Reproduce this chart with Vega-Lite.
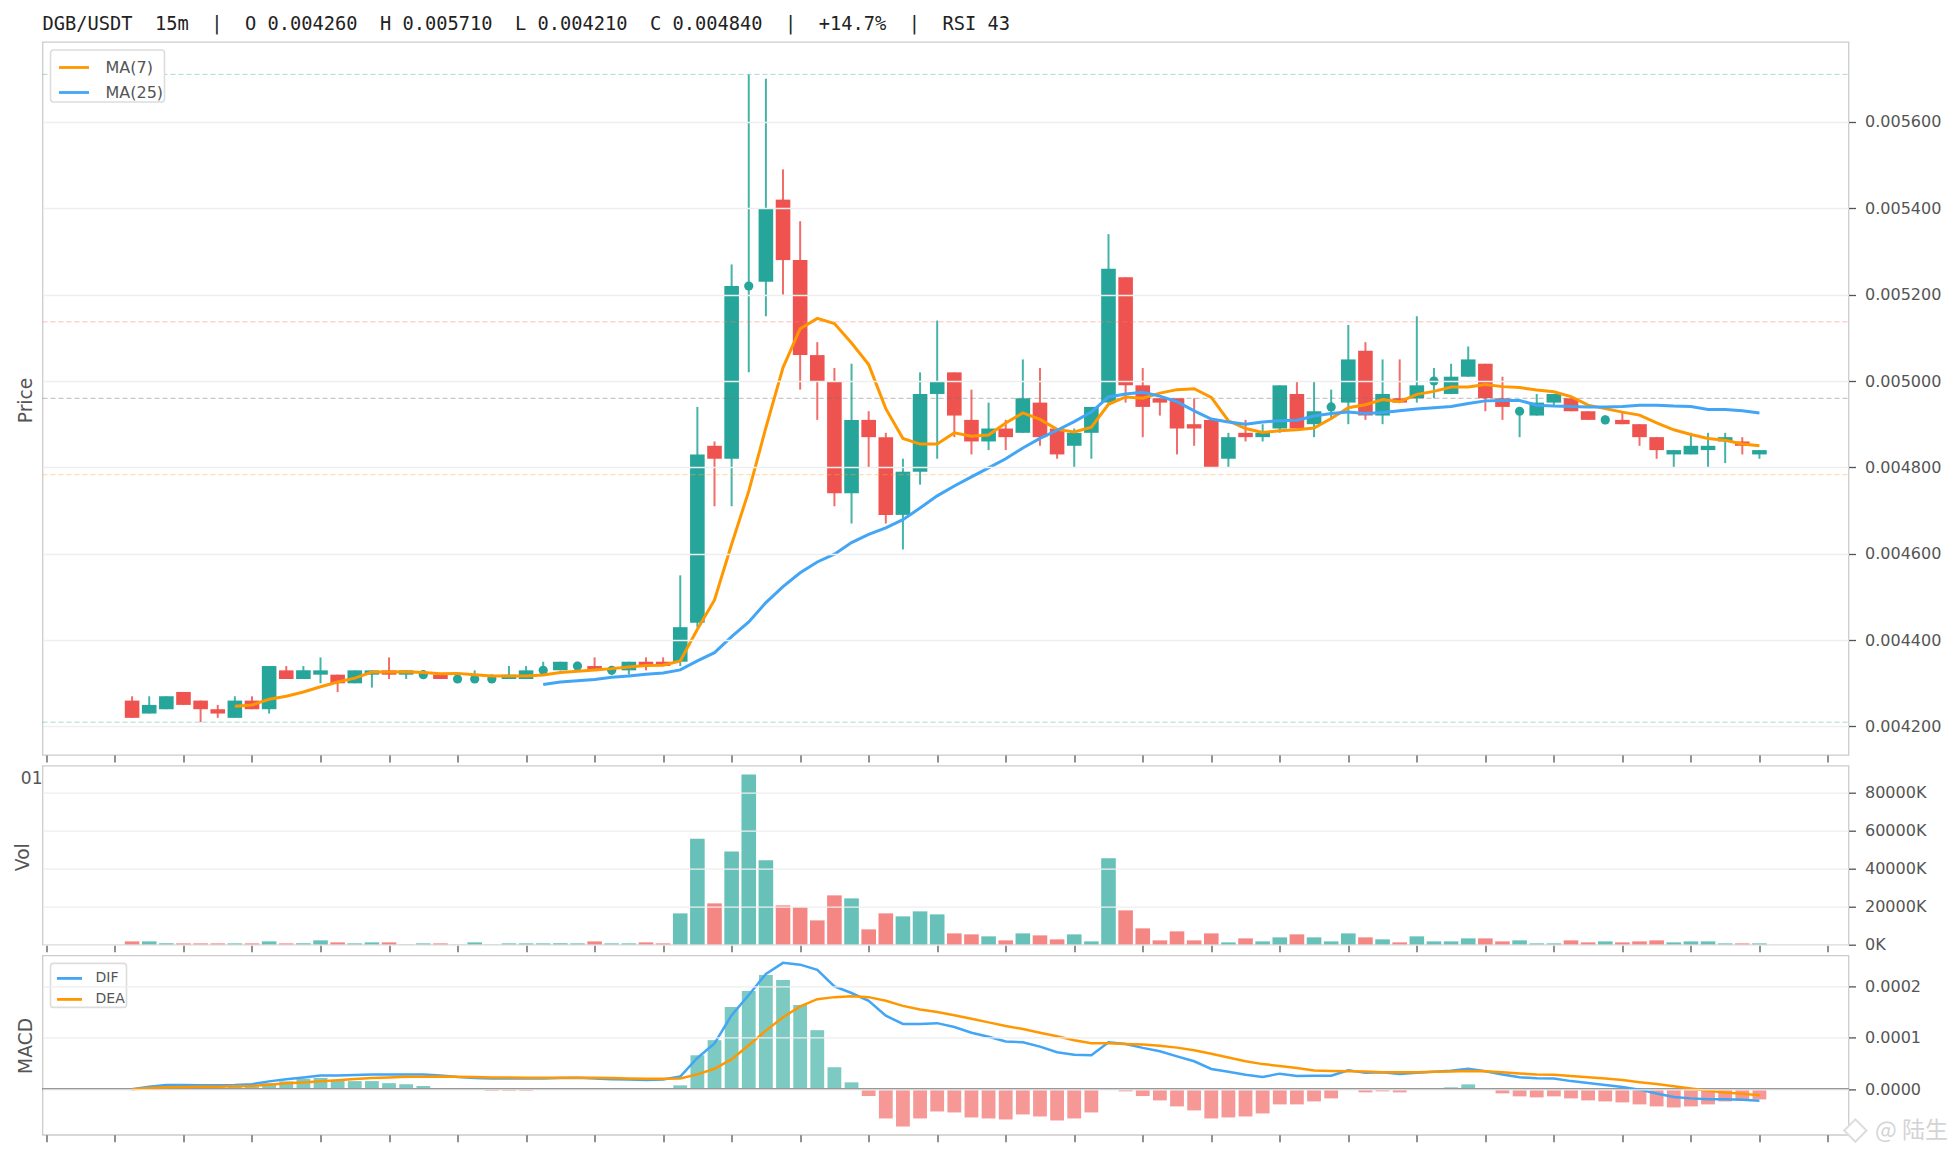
{
  "$schema": "https://vega.github.io/schema/vega-lite/v6.json",
  "background": "white",
  "padding": {"left": 12.5, "top": 14, "right": 0, "bottom": 0},
  "bounds": "flush",
  "spacing": 10.7,
  "resolve": {"scale": {"color": "independent"}, "legend": {"color": "independent"}},
  "config": {
    "font": "DejaVu Sans",
    "view": {"stroke": "#cccccc", "strokeWidth": 1.3},
    "axis": {
      "domain": false, "grid": true, "gridColor": "#eeeeee", "gridWidth": 1.3,
      "tickColor": "#555555", "tickSize": 7, "tickWidth": 1.3,
      "labelColor": "#555555", "labelFontSize": 16, "labelPadding": 9, "labelFlush": false, "labelOverlap": false,
      "titleColor": "#555555", "titleFontSize": 18.7, "titleFontWeight": "normal", "titleAngle": -90, "titleAlign": "center"
    },
    "legend": {
      "orient": "top-left", "offset": 8, "title": null, "fillColor": "white", "strokeColor": "#dddddd", "strokeWidth": 1.6, "cornerRadius": 3,
      "padding": 1, "symbolType": "stroke", "symbolStrokeWidth": 2.8, "labelColor": "#555555"
    }
  },
  "datasets": {
    "k": [
      {"n":5,"o":0.00426,"h":0.00427,"l":0.00422,"c":0.00422,"vol":1750,"hist":0,"dif":0,"dea":0},
      {"n":6,"o":0.00423,"h":0.00427,"l":0.00423,"c":0.00425,"vol":1750,"hist":0.03e-4,"dif":0.05e-4,"dea":0.026e-4},
      {"n":7,"o":0.00424,"h":0.00427,"l":0.00424,"c":0.00427,"vol":700,"hist":0.08e-4,"dif":0.085e-4,"dea":0.04e-4},
      {"n":8,"o":0.00428,"h":0.00428,"l":0.00425,"c":0.00425,"vol":700,"hist":0.06e-4,"dif":0.085e-4,"dea":0.045e-4},
      {"n":9,"o":0.00426,"h":0.00426,"l":0.00421,"c":0.00424,"vol":700,"hist":0.05e-4,"dif":0.08e-4,"dea":0.05e-4},
      {"n":10,"o":0.00424,"h":0.00425,"l":0.00422,"c":0.00423,"vol":700,"hist":0.04e-4,"dif":0.08e-4,"dea":0.05e-4},
      {"n":11,"o":0.00422,"h":0.00427,"l":0.00422,"c":0.00426,"vol":700,"hist":0.05e-4,"dif":0.085e-4,"dea":0.06e-4,"ma7":0.004247},
      {"n":12,"o":0.00426,"h":0.00427,"l":0.00424,"c":0.00424,"vol":700,"hist":0.06e-4,"dif":0.10e-4,"dea":0.065e-4,"ma7":0.00425},
      {"n":13,"o":0.00424,"h":0.00434,"l":0.00423,"c":0.00434,"vol":1750,"hist":0.12e-4,"dif":0.155e-4,"dea":0.09e-4,"ma7":0.004263},
      {"n":14,"o":0.00433,"h":0.00434,"l":0.00431,"c":0.00431,"vol":700,"hist":0.155e-4,"dif":0.195e-4,"dea":0.12e-4,"ma7":0.00427},
      {"n":15,"o":0.00431,"h":0.00434,"l":0.00431,"c":0.00433,"vol":700,"hist":0.207e-4,"dif":0.23e-4,"dea":0.135e-4,"ma7":0.00428},
      {"n":16,"o":0.00432,"h":0.00436,"l":0.0043,"c":0.00433,"vol":2280,"hist":0.22e-4,"dif":0.27e-4,"dea":0.155e-4,"ma7":0.004292},
      {"n":17,"o":0.00432,"h":0.00432,"l":0.00428,"c":0.0043,"vol":1230,"hist":0.18e-4,"dif":0.27e-4,"dea":0.175e-4,"ma7":0.004303},
      {"n":18,"o":0.0043,"h":0.00433,"l":0.0043,"c":0.00433,"vol":700,"hist":0.16e-4,"dif":0.28e-4,"dea":0.2e-4,"ma7":0.004312},
      {"n":19,"o":0.00432,"h":0.00433,"l":0.00429,"c":0.00433,"vol":1230,"hist":0.16e-4,"dif":0.29e-4,"dea":0.22e-4,"ma7":0.004326},
      {"n":20,"o":0.00433,"h":0.00436,"l":0.00431,"c":0.00432,"vol":1230,"hist":0.12e-4,"dif":0.29e-4,"dea":0.23e-4,"ma7":0.004326},
      {"n":21,"o":0.00432,"h":0.00433,"l":0.00431,"c":0.00433,"vol":150,"hist":0.10e-4,"dif":0.29e-4,"dea":0.245e-4,"ma7":0.004327},
      {"n":22,"o":0.00432,"h":0.00433,"l":0.00431,"c":0.00432,"vol":700,"hist":0.065e-4,"dif":0.29e-4,"dea":0.245e-4,"ma7":0.004325},
      {"n":23,"o":0.00432,"h":0.00432,"l":0.00431,"c":0.00431,"vol":700,"hist":0.026e-4,"dif":0.27e-4,"dea":0.25e-4,"ma7":0.004322},
      {"n":24,"o":0.00431,"h":0.00431,"l":0.00431,"c":0.00431,"vol":100,"hist":0,"dif":0.24e-4,"dea":0.245e-4,"ma7":0.004323},
      {"n":25,"o":0.00431,"h":0.00433,"l":0.00431,"c":0.00431,"vol":1230,"hist":0,"dif":0.22e-4,"dea":0.24e-4,"ma7":0.00432},
      {"n":26,"o":0.00431,"h":0.00432,"l":0.00431,"c":0.00431,"vol":100,"hist":-0.03e-4,"dif":0.21e-4,"dea":0.23e-4,"ma7":0.004317},
      {"n":27,"o":0.00431,"h":0.00434,"l":0.00431,"c":0.00432,"vol":700,"hist":-0.03e-4,"dif":0.21e-4,"dea":0.23e-4,"ma7":0.004317},
      {"n":28,"o":0.00431,"h":0.00434,"l":0.00431,"c":0.00433,"vol":700,"hist":-0.03e-4,"dif":0.21e-4,"dea":0.225e-4,"ma7":0.004317},
      {"n":29,"o":0.00433,"h":0.00435,"l":0.00433,"c":0.00433,"vol":700,"hist":0.003e-4,"dif":0.21e-4,"dea":0.225e-4,"ma7":0.004319,"ma25":0.004297},
      {"n":30,"o":0.00433,"h":0.00435,"l":0.00433,"c":0.00435,"vol":700,"hist":0.003e-4,"dif":0.22e-4,"dea":0.225e-4,"ma7":0.004325,"ma25":0.004303},
      {"n":31,"o":0.00434,"h":0.00435,"l":0.00433,"c":0.00434,"vol":700,"hist":0.003e-4,"dif":0.225e-4,"dea":0.225e-4,"ma7":0.004328,"ma25":0.004306},
      {"n":32,"o":0.00434,"h":0.00436,"l":0.00433,"c":0.00433,"vol":1750,"hist":0.003e-4,"dif":0.21e-4,"dea":0.225e-4,"ma7":0.004331,"ma25":0.004309},
      {"n":33,"o":0.00433,"h":0.00434,"l":0.00432,"c":0.00433,"vol":700,"hist":0.003e-4,"dif":0.195e-4,"dea":0.22e-4,"ma7":0.004334,"ma25":0.004314},
      {"n":34,"o":0.00433,"h":0.00435,"l":0.00432,"c":0.00435,"vol":700,"hist":0.003e-4,"dif":0.19e-4,"dea":0.21e-4,"ma7":0.004338,"ma25":0.004317},
      {"n":35,"o":0.00435,"h":0.00436,"l":0.00433,"c":0.00434,"vol":1230,"hist":0.003e-4,"dif":0.18e-4,"dea":0.205e-4,"ma7":0.004341,"ma25":0.004321},
      {"n":36,"o":0.00435,"h":0.00436,"l":0.00434,"c":0.00434,"vol":700,"hist":0.003e-4,"dif":0.19e-4,"dea":0.205e-4,"ma7":0.004342,"ma25":0.004324},
      {"n":37,"o":0.00435,"h":0.00455,"l":0.00434,"c":0.00443,"vol":16490,"hist":0.078e-4,"dif":0.25e-4,"dea":0.21e-4,"ma7":0.004352,"ma25":0.004331},
      {"n":38,"o":0.00444,"h":0.00494,"l":0.00443,"c":0.00483,"vol":55780,"hist":0.662e-4,"dif":0.61e-4,"dea":0.29e-4,"ma7":0.004425,"ma25":0.004352},
      {"n":39,"o":0.00485,"h":0.00486,"l":0.00471,"c":0.00482,"vol":21750,"hist":0.955e-4,"dif":0.89e-4,"dea":0.40e-4,"ma7":0.004493,"ma25":0.004371},
      {"n":40,"o":0.00482,"h":0.00527,"l":0.00471,"c":0.00522,"vol":49110,"hist":1.597e-4,"dif":1.44e-4,"dea":0.585e-4,"ma7":0.004622,"ma25":0.004408},
      {"n":41,"o":0.00522,"h":0.00571,"l":0.00502,"c":0.00522,"vol":89630,"hist":1.909e-4,"dif":1.83e-4,"dea":0.855e-4,"ma7":0.004745,"ma25":0.004442},
      {"n":42,"o":0.00523,"h":0.0057,"l":0.00515,"c":0.0054,"vol":44380,"hist":2.22e-4,"dif":2.24e-4,"dea":1.14e-4,"ma7":0.004892,"ma25":0.004487},
      {"n":43,"o":0.00542,"h":0.00549,"l":0.0052,"c":0.00528,"vol":20700,"hist":2.123e-4,"dif":2.455e-4,"dea":1.40e-4,"ma7":0.005031,"ma25":0.004524},
      {"n":44,"o":0.00528,"h":0.00537,"l":0.00498,"c":0.00506,"vol":19820,"hist":1.636e-4,"dif":2.42e-4,"dea":1.61e-4,"ma7":0.005121,"ma25":0.004556},
      {"n":45,"o":0.00506,"h":0.00509,"l":0.00491,"c":0.005,"vol":12800,"hist":1.149e-4,"dif":2.32e-4,"dea":1.75e-4,"ma7":0.005145,"ma25":0.004581},
      {"n":46,"o":0.005,"h":0.00503,"l":0.00471,"c":0.00474,"vol":25960,"hist":0.429e-4,"dif":2.0e-4,"dea":1.79e-4,"ma7":0.005133,"ma25":0.004599},
      {"n":47,"o":0.00474,"h":0.00504,"l":0.00467,"c":0.00491,"vol":24380,"hist":0.136e-4,"dif":1.87e-4,"dea":1.805e-4,"ma7":0.005088,"ma25":0.004626},
      {"n":48,"o":0.00491,"h":0.00493,"l":0.0048,"c":0.00487,"vol":8070,"hist":-0.13e-4,"dif":1.72e-4,"dea":1.79e-4,"ma7":0.005038,"ma25":0.004645},
      {"n":49,"o":0.00487,"h":0.00488,"l":0.00467,"c":0.00469,"vol":16490,"hist":-0.565e-4,"dif":1.43e-4,"dea":1.72e-4,"ma7":0.004936,"ma25":0.00466},
      {"n":50,"o":0.00469,"h":0.00482,"l":0.00461,"c":0.00479,"vol":14910,"hist":-0.721e-4,"dif":1.27e-4,"dea":1.62e-4,"ma7":0.004867,"ma25":0.004679},
      {"n":51,"o":0.00479,"h":0.00502,"l":0.00476,"c":0.00497,"vol":17540,"hist":-0.565e-4,"dif":1.27e-4,"dea":1.55e-4,"ma7":0.004854,"ma25":0.004706},
      {"n":52,"o":0.00497,"h":0.00514,"l":0.00482,"c":0.005,"vol":15960,"hist":-0.429e-4,"dif":1.285e-4,"dea":1.50e-4,"ma7":0.004854,"ma25":0.004734},
      {"n":53,"o":0.00502,"h":0.00502,"l":0.00487,"c":0.00492,"vol":5960,"hist":-0.448e-4,"dif":1.21e-4,"dea":1.44e-4,"ma7":0.00488,"ma25":0.004757},
      {"n":54,"o":0.00491,"h":0.00498,"l":0.00483,"c":0.00486,"vol":5440,"hist":-0.545e-4,"dif":1.10e-4,"dea":1.37e-4,"ma7":0.004872,"ma25":0.004778},
      {"n":55,"o":0.00486,"h":0.00495,"l":0.00484,"c":0.00489,"vol":4390,"hist":-0.565e-4,"dif":1.02e-4,"dea":1.30e-4,"ma7":0.004875,"ma25":0.004799},
      {"n":56,"o":0.00489,"h":0.00491,"l":0.00484,"c":0.00487,"vol":2280,"hist":-0.584e-4,"dif":0.93e-4,"dea":1.23e-4,"ma7":0.004903,"ma25":0.00482},
      {"n":57,"o":0.00488,"h":0.00505,"l":0.00488,"c":0.00496,"vol":5960,"hist":-0.487e-4,"dif":0.915e-4,"dea":1.17e-4,"ma7":0.004926,"ma25":0.004845},
      {"n":58,"o":0.00495,"h":0.00503,"l":0.00485,"c":0.00487,"vol":4910,"hist":-0.526e-4,"dif":0.83e-4,"dea":1.10e-4,"ma7":0.004911,"ma25":0.004867},
      {"n":59,"o":0.00489,"h":0.00489,"l":0.00482,"c":0.00483,"vol":2810,"hist":-0.604e-4,"dif":0.72e-4,"dea":1.03e-4,"ma7":0.004888,"ma25":0.004886},
      {"n":60,"o":0.00485,"h":0.00489,"l":0.0048,"c":0.00488,"vol":5440,"hist":-0.565e-4,"dif":0.67e-4,"dea":0.955e-4,"ma7":0.004882,"ma25":0.004906},
      {"n":61,"o":0.00488,"h":0.00494,"l":0.00482,"c":0.00494,"vol":1750,"hist":-0.448e-4,"dif":0.66e-4,"dea":0.895e-4,"ma7":0.004893,"ma25":0.004928},
      {"n":62,"o":0.00495,"h":0.00534,"l":0.00495,"c":0.00526,"vol":45430,"hist":0.019e-4,"dif":0.915e-4,"dea":0.895e-4,"ma7":0.004946,"ma25":0.004963},
      {"n":63,"o":0.00524,"h":0.00524,"l":0.00495,"c":0.00499,"vol":18070,"hist":-0.039e-4,"dif":0.88e-4,"dea":0.88e-4,"ma7":0.004963,"ma25":0.00497},
      {"n":64,"o":0.00499,"h":0.00503,"l":0.00487,"c":0.00494,"vol":8600,"hist":-0.13e-4,"dif":0.805e-4,"dea":0.87e-4,"ma7":0.00496,"ma25":0.004974},
      {"n":65,"o":0.00496,"h":0.00496,"l":0.00492,"c":0.00495,"vol":2280,"hist":-0.214e-4,"dif":0.74e-4,"dea":0.845e-4,"ma7":0.004972,"ma25":0.004965},
      {"n":66,"o":0.00496,"h":0.00496,"l":0.00483,"c":0.00489,"vol":7020,"hist":-0.331e-4,"dif":0.64e-4,"dea":0.81e-4,"ma7":0.00498,"ma25":0.004952},
      {"n":67,"o":0.0049,"h":0.00496,"l":0.00485,"c":0.00489,"vol":2280,"hist":-0.409e-4,"dif":0.545e-4,"dea":0.76e-4,"ma7":0.004982,"ma25":0.004931},
      {"n":68,"o":0.00491,"h":0.00491,"l":0.0048,"c":0.0048,"vol":5960,"hist":-0.565e-4,"dif":0.395e-4,"dea":0.69e-4,"ma7":0.004962,"ma25":0.004912},
      {"n":69,"o":0.00482,"h":0.00488,"l":0.0048,"c":0.00487,"vol":1230,"hist":-0.545e-4,"dif":0.34e-4,"dea":0.62e-4,"ma7":0.004908,"ma25":0.004905},
      {"n":70,"o":0.00488,"h":0.00491,"l":0.00486,"c":0.00487,"vol":3330,"hist":-0.526e-4,"dif":0.285e-4,"dea":0.545e-4,"ma7":0.00489,"ma25":0.0049},
      {"n":71,"o":0.00487,"h":0.0049,"l":0.00486,"c":0.00488,"vol":1750,"hist":-0.468e-4,"dif":0.24e-4,"dea":0.49e-4,"ma7":0.004881,"ma25":0.004905},
      {"n":72,"o":0.00489,"h":0.00499,"l":0.00488,"c":0.00499,"vol":3860,"hist":-0.292e-4,"dif":0.305e-4,"dea":0.455e-4,"ma7":0.004885,"ma25":0.004908},
      {"n":73,"o":0.00497,"h":0.005,"l":0.00489,"c":0.00489,"vol":5440,"hist":-0.292e-4,"dif":0.26e-4,"dea":0.415e-4,"ma7":0.004887,"ma25":0.004909},
      {"n":74,"o":0.0049,"h":0.005,"l":0.00487,"c":0.00493,"vol":3860,"hist":-0.234e-4,"dif":0.265e-4,"dea":0.365e-4,"ma7":0.004891,"ma25":0.004919},
      {"n":75,"o":0.00494,"h":0.00498,"l":0.00491,"c":0.00494,"vol":1750,"hist":-0.175e-4,"dif":0.265e-4,"dea":0.355e-4,"ma7":0.004913,"ma25":0.004925},
      {"n":76,"o":0.00495,"h":0.00513,"l":0.0049,"c":0.00505,"vol":5960,"hist":0.002e-4,"dif":0.37e-4,"dea":0.35e-4,"ma7":0.004938,"ma25":0.004928},
      {"n":77,"o":0.00507,"h":0.00509,"l":0.00491,"c":0.00492,"vol":3860,"hist":-0.058e-4,"dif":0.32e-4,"dea":0.345e-4,"ma7":0.004945,"ma25":0.004925},
      {"n":78,"o":0.00492,"h":0.00505,"l":0.0049,"c":0.00497,"vol":2810,"hist":-0.039e-4,"dif":0.33e-4,"dea":0.33e-4,"ma7":0.004957,"ma25":0.004927},
      {"n":79,"o":0.00496,"h":0.00505,"l":0.00495,"c":0.00495,"vol":1230,"hist":-0.058e-4,"dif":0.30e-4,"dea":0.33e-4,"ma7":0.004952,"ma25":0.004931},
      {"n":80,"o":0.00496,"h":0.00515,"l":0.00495,"c":0.00499,"vol":4390,"hist":0.002e-4,"dif":0.32e-4,"dea":0.33e-4,"ma7":0.004969,"ma25":0.004935},
      {"n":81,"o":0.005,"h":0.00503,"l":0.00496,"c":0.005,"vol":1750,"hist":0.019e-4,"dif":0.34e-4,"dea":0.34e-4,"ma7":0.004976,"ma25":0.004938},
      {"n":82,"o":0.00497,"h":0.00504,"l":0.00497,"c":0.00501,"vol":1750,"hist":0.039e-4,"dif":0.36e-4,"dea":0.345e-4,"ma7":0.004986,"ma25":0.004941},
      {"n":83,"o":0.00501,"h":0.00508,"l":0.00501,"c":0.00505,"vol":3330,"hist":0.097e-4,"dif":0.40e-4,"dea":0.355e-4,"ma7":0.004986,"ma25":0.004948},
      {"n":84,"o":0.00504,"h":0.00504,"l":0.00493,"c":0.00496,"vol":3330,"hist":0.019e-4,"dif":0.35e-4,"dea":0.35e-4,"ma7":0.004992,"ma25":0.004954},
      {"n":85,"o":0.00496,"h":0.00501,"l":0.00491,"c":0.00494,"vol":1750,"hist":-0.078e-4,"dif":0.29e-4,"dea":0.33e-4,"ma7":0.004987,"ma25":0.004955},
      {"n":86,"o":0.00493,"h":0.00494,"l":0.00487,"c":0.00493,"vol":2280,"hist":-0.136e-4,"dif":0.235e-4,"dea":0.31e-4,"ma7":0.004985,"ma25":0.004955},
      {"n":87,"o":0.00492,"h":0.00497,"l":0.00492,"c":0.00495,"vol":700,"hist":-0.156e-4,"dif":0.215e-4,"dea":0.29e-4,"ma7":0.004979,"ma25":0.004944},
      {"n":88,"o":0.00495,"h":0.00497,"l":0.00494,"c":0.00497,"vol":700,"hist":-0.136e-4,"dif":0.21e-4,"dea":0.285e-4,"ma7":0.004975,"ma25":0.004942},
      {"n":89,"o":0.00496,"h":0.00496,"l":0.00493,"c":0.00493,"vol":2280,"hist":-0.175e-4,"dif":0.16e-4,"dea":0.26e-4,"ma7":0.004964,"ma25":0.004941},
      {"n":90,"o":0.00493,"h":0.00493,"l":0.00491,"c":0.00491,"vol":1230,"hist":-0.214e-4,"dif":0.125e-4,"dea":0.235e-4,"ma7":0.004944,"ma25":0.00494},
      {"n":91,"o":0.00491,"h":0.00492,"l":0.0049,"c":0.00491,"vol":1750,"hist":-0.234e-4,"dif":0.085e-4,"dea":0.21e-4,"ma7":0.004936,"ma25":0.00494},
      {"n":92,"o":0.00491,"h":0.00493,"l":0.0049,"c":0.0049,"vol":1230,"hist":-0.253e-4,"dif":0.045e-4,"dea":0.18e-4,"ma7":0.004928,"ma25":0.004941},
      {"n":93,"o":0.0049,"h":0.0049,"l":0.00485,"c":0.00487,"vol":1750,"hist":-0.292e-4,"dif":-0.005e-4,"dea":0.14e-4,"ma7":0.004921,"ma25":0.004944},
      {"n":94,"o":0.00487,"h":0.00487,"l":0.00482,"c":0.00484,"vol":2280,"hist":-0.331e-4,"dif":-0.08e-4,"dea":0.105e-4,"ma7":0.004903,"ma25":0.004944},
      {"n":95,"o":0.00483,"h":0.00484,"l":0.0048,"c":0.00484,"vol":1230,"hist":-0.351e-4,"dif":-0.15e-4,"dea":0.06e-4,"ma7":0.004887,"ma25":0.004942},
      {"n":96,"o":0.00483,"h":0.00488,"l":0.00483,"c":0.00485,"vol":1750,"hist":-0.331e-4,"dif":-0.175e-4,"dea":0.015e-4,"ma7":0.004876,"ma25":0.004941},
      {"n":97,"o":0.00484,"h":0.00488,"l":0.0048,"c":0.00485,"vol":1750,"hist":-0.292e-4,"dif":-0.19e-4,"dea":-0.025e-4,"ma7":0.004867,"ma25":0.004934},
      {"n":98,"o":0.00486,"h":0.00488,"l":0.00481,"c":0.00487,"vol":700,"hist":-0.234e-4,"dif":-0.19e-4,"dea":-0.06e-4,"ma7":0.004863,"ma25":0.004934},
      {"n":99,"o":0.00486,"h":0.00487,"l":0.00483,"c":0.00485,"vol":700,"hist":-0.214e-4,"dif":-0.2e-4,"dea":-0.085e-4,"ma7":0.004854,"ma25":0.004931},
      {"n":100,"o":0.00483,"h":0.00484,"l":0.00482,"c":0.00484,"vol":700,"hist":-0.195e-4,"dif":-0.22e-4,"dea":-0.115e-4,"ma7":0.00485,"ma25":0.004926}
    ],
    "levels": [
      {"level":"high","price":0.00571},
      {"level":"fib618","price":0.005137},
      {"level":"fib500","price":0.00496},
      {"level":"fib382","price":0.004783},
      {"level":"low","price":0.00421}
    ]
  },
  "vconcat": [
    {
      "width": 1806,
      "height": 713,
      "title": {
        "text": "DGB/USDT\u00a0\u00a015m\u00a0\u00a0|\u00a0\u00a0O 0.004260\u00a0\u00a0H 0.005710\u00a0\u00a0L 0.004210\u00a0\u00a0C 0.004840\u00a0\u00a0|\u00a0\u00a0+14.7%\u00a0\u00a0|\u00a0\u00a0RSI 43",
        "font": "DejaVu Sans Mono", "fontSize": 18.7, "fontWeight": "normal", "color": "#222222", "anchor": "start", "frame": "group", "offset": 8
      },
      "data": {"name": "k"},
      "encoding": {
        "x": {"field": "n", "type": "quantitative", "title": null,
          "scale": {"domain": [-0.23, 105.2], "nice": false, "zero": false, "padding": 0},
          "axis": {"values": [0,4,8,12,16,20,24,28,32,36,40,44,48,52,56,60,64,68,72,76,80,84,88,92,96,100,104], "labels": false, "grid": false}}
      },
      "layer": [
        {
          "mark": {"type": "rule", "strokeWidth": 2, "opacity": 0.85},
          "encoding": {
            "y": {"field": "l", "type": "quantitative", "title": "Price",
              "scale": {"domain": [0.004134, 0.005785], "nice": false, "zero": false},
              "axis": {"orient": "right", "values": [0.0042,0.0044,0.0046,0.0048,0.005,0.0052,0.0054,0.0056], "format": ".6f", "zindex": 1, "titleX": -1813, "titleY": 358}},
            "y2": {"field": "h"},
            "color": {"condition": {"test": "datum.c < datum.o", "value": "#ef5350"}, "value": "#26a69a"}
          }
        },
        {
          "transform": [{"filter": "datum.o != datum.c"}],
          "mark": {"type": "bar", "width": 14.6},
          "encoding": {
            "y": {"field": "o", "type": "quantitative"},
            "y2": {"field": "c"},
            "color": {"condition": {"test": "datum.c < datum.o", "value": "#ef5350"}, "value": "#26a69a"}
          }
        },
        {
          "transform": [{"filter": "datum.o == datum.c"}],
          "mark": {"type": "point", "filled": true, "opacity": 1, "size": 85, "shape": "circle", "color": "#26a69a"},
          "encoding": {"y": {"field": "c", "type": "quantitative"}}
        },
        {
          "data": {"name": "levels"},
          "mark": {"type": "rule", "strokeWidth": 1, "strokeDash": [5, 3], "opacity": 0.5},
          "encoding": {
            "x": {"value": 0},
            "x2": {"value": 1806},
            "y": {"field": "price", "type": "quantitative"},
            "color": {"condition": [
              {"test": "datum.level == 'high' || datum.level == 'low'", "value": "#4db6ac"},
              {"test": "datum.level == 'fib618'", "value": "#ff7b72"},
              {"test": "datum.level == 'fib382'", "value": "#ffa940"}
            ], "value": "#757575"}
          }
        },
        {
          "transform": [{"filter": "isValid(datum.ma7)"}],
          "mark": {"type": "line", "strokeWidth": 3},
          "encoding": {
            "y": {"field": "ma7", "type": "quantitative"},
            "color": {"datum": "MA(7)", "scale": {"domain": ["MA(7)", "MA(25)"], "range": ["#ff9800", "#42a5f5"]},
              "legend": {"labelFontSize": 16, "symbolSize": 900, "rowPadding": -2, "symbolOffset": 6, "labelOffset": 15}}
          }
        },
        {
          "transform": [{"filter": "isValid(datum.ma25)"}],
          "mark": {"type": "line", "strokeWidth": 3},
          "encoding": {
            "y": {"field": "ma25", "type": "quantitative"},
            "color": {"datum": "MA(25)"}
          }
        }
      ]
    },
    {
      "width": 1806,
      "height": 179,
      "data": {"name": "k"},
      "encoding": {
        "x": {"field": "n", "type": "quantitative", "title": null,
          "scale": {"domain": [-0.23, 105.2], "nice": false, "zero": false, "padding": 0},
          "axis": {"values": [0,4,8,12,16,20,24,28,32,36,40,44,48,52,56,60,64,68,72,76,80,84,88,92,96,100,104], "labels": false, "grid": false}}
      },
      "layer": [
        {
          "mark": {"type": "bar", "width": 14.6, "opacity": 0.7},
          "encoding": {
            "y": {"field": "vol", "type": "quantitative", "title": "Vol",
              "scale": {"domain": [0, 94200], "nice": false},
              "axis": {"orient": "right", "values": [0,20000,40000,60000,80000], "labelExpr": "datum.value + 'K'", "zindex": 1, "titleX": -1816, "titleY": 91}},
            "color": {"condition": {"test": "datum.c < datum.o", "value": "#ef5350"}, "value": "#26a69a"}
          }
        },
        {
          "data": {"values": [{"n": -0.23, "vol": 87200, "stub": "01"}]},
          "mark": {"type": "text", "align": "right", "baseline": "middle", "fontSize": 17, "color": "#555555"},
          "encoding": {
            "y": {"field": "vol", "type": "quantitative"},
            "text": {"field": "stub"}
          }
        }
      ]
    },
    {
      "width": 1806,
      "height": 179.4,
      "data": {"name": "k"},
      "encoding": {
        "x": {"field": "n", "type": "quantitative", "title": null,
          "scale": {"domain": [-0.23, 105.2], "nice": false, "zero": false, "padding": 0},
          "axis": {"values": [0,4,8,12,16,20,24,28,32,36,40,44,48,52,56,60,64,68,72,76,80,84,88,92,96,100,104], "labels": false, "grid": false}}
      },
      "layer": [
        {
          "mark": {"type": "bar", "width": 13.8, "opacity": 0.6},
          "encoding": {
            "y": {"field": "hist", "type": "quantitative", "title": "MACD",
              "scale": {"domain": [-0.0000882, 0.00026], "nice": false, "zero": false},
              "axis": {"orient": "right", "values": [0,0.0001,0.0002], "format": ".4f", "zindex": 1, "titleX": -1813, "titleY": 90}},
            "color": {"condition": {"test": "datum.hist < 0", "value": "#ef5350"}, "value": "#26a69a"}
          }
        },
        {
          "mark": {"type": "rule", "strokeWidth": 1.2, "color": "#999999"},
          "encoding": {"x": {"value": 0}, "x2": {"value": 1806}, "y": {"datum": 0, "type": "quantitative"}}
        },
        {
          "mark": {"type": "line", "strokeWidth": 2.5},
          "encoding": {
            "y": {"field": "dif", "type": "quantitative"},
            "color": {"datum": "DIF", "scale": {"domain": ["DIF", "DEA"], "range": ["#42a5f5", "#ff9800"]},
              "legend": {"labelFontSize": 14, "symbolSize": 625, "rowPadding": -2, "symbolOffset": 4, "labelOffset": 12, "offset": 8}}
          }
        },
        {
          "mark": {"type": "line", "strokeWidth": 2.5},
          "encoding": {
            "y": {"field": "dea", "type": "quantitative"},
            "color": {"datum": "DEA"}
          }
        },
        {
          "data": {"values": [{"n": 105.6, "hist": -0.00008}]},
          "mark": {"type": "point", "shape": "diamond", "size": 500, "filled": true, "fill": "white", "stroke": "#dddddd", "strokeWidth": 2, "opacity": 1},
          "encoding": {"y": {"field": "hist", "type": "quantitative"}}
        },
        {
          "data": {"values": [{"n": 106.75, "hist": -0.00008, "mark": "@ 陆生"}]},
          "mark": {"type": "text", "align": "left", "baseline": "middle", "font": "Noto Sans CJK SC", "fontSize": 23, "color": "#d4d4d4"},
          "encoding": {
            "y": {"field": "hist", "type": "quantitative"},
            "text": {"field": "mark"}
          }
        }
      ]
    }
  ]
}
